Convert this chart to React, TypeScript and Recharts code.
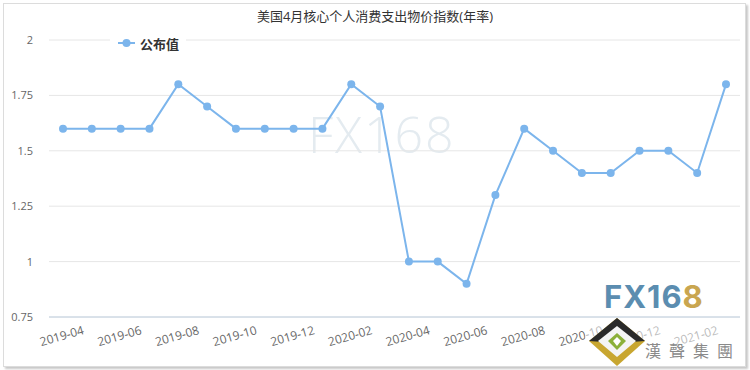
import { LineChart, Line, XAxis, YAxis, CartesianGrid, ReferenceLine } from "recharts"

const months = [
	"2019-04", "2019-05", "2019-06", "2019-07", "2019-08", "2019-09",
	"2019-10", "2019-11", "2019-12", "2020-01", "2020-02", "2020-03",
	"2020-04", "2020-05", "2020-06", "2020-07", "2020-08", "2020-09",
	"2020-10", "2020-11", "2020-12", "2021-01", "2021-02", "2021-03",
]
const published = [
	1.6, 1.6, 1.6, 1.6, 1.8, 1.7, 1.6, 1.6, 1.6, 1.6, 1.8, 1.7,
	1.0, 1.0, 0.9, 1.3, 1.6, 1.5, 1.4, 1.4, 1.5, 1.5, 1.4, 1.8,
]
const yTicks = [0.75, 1, 1.25, 1.5, 1.75, 2]

const data = months.map((m, i) => ({ month: m, value: published[i] }))

const FONT = '"Open Sans", "Noto Sans CJK SC", sans-serif'
const LINE_COLOR = "#7cb5ec"

function MonthTick(props: any) {
	const { x, y, payload } = props
	return (
		<text
			x={x}
			y={y + 15}
			transform={`rotate(-16, ${x}, ${y + 15})`}
			textAnchor="middle"
			fontSize={12}
			fill="#666"
			fontFamily={FONT}
		>
			{payload.value}
		</text>
	)
}

function Logo() {
	return (
		<svg width={750} height={370} style={{ position: "absolute", left: 0, top: 0, pointerEvents: "none" }}>
			<rect x={585} y={318} width={158} height={47} fill="#fff" opacity={0.55} />
			<text x={604} y={308} fontSize={31} fontWeight={700} fill="#5b8db0" fontFamily="Inter, sans-serif" letterSpacing={1}>
				FX16
				<tspan fill="#c9a650">8</tspan>
			</text>
			<polygon points="617,318 645,341 617,366 589,341" fill="#c8a630" />
			<polygon points="617,318 645,341 617,343 589,341" fill="#2a2a2a" />
			<polygon points="617,326 636,341 617,357 598,341" fill="#f4f4f4" />
			<polygon points="617,333 626,341 617,350 608,341" fill="#8bb03a" />
			<polygon points="617,337 621,341 617,346 613,341" fill="#fff" />
			<text x={645} y={357} fontSize={16} fill="#8a8a8a" fontFamily={FONT} letterSpacing={8}>
				漢聲集團
			</text>
		</svg>
	)
}

export default function App() {
	return (
		<div style={{ position: "fixed", left: 0, top: 0, width: 750, height: 370, background: "#fff", fontFamily: FONT }}>
			<div
				style={{
					position: "absolute", left: 3, top: 3, width: 741, height: 362,
					border: "1px solid #dcdcdc", boxShadow: "2px 2px 2px #c8c8c8",
				}}
			/>
			<div style={{ position: "absolute", left: 0, top: 6, width: 750, textAlign: "center", fontSize: 13, color: "#333" }}>
				美国4月核心个人消费支出物价指数(年率)
			</div>
			{/* faint watermark behind the series */}
			<div
				style={{
					position: "absolute", left: 308, top: 100, fontSize: 50, color: "#e4ebf0",
					fontFamily: '"Open Sans", sans-serif', fontWeight: 300, letterSpacing: 2,
				}}
			>
				FX168
			</div>
			<LineChart
				width={750}
				height={370}
				data={data}
				margin={{ top: 40, right: 10, bottom: 13, left: 0 }}
				style={{ position: "absolute", left: 0, top: 0 }}
			>
				<CartesianGrid vertical={false} stroke="#e6e6e6" />
				<XAxis
					dataKey="month"
					interval={1}
					height={40}
					axisLine={false}
					tickLine={false}
					tick={<MonthTick />}
					padding={{ left: 14, right: 14 }}
				/>
				<YAxis
					width={49}
					domain={[0.75, 2]}
					ticks={yTicks}
					axisLine={false}
					tickLine={false}
					tickSize={0}
					tickMargin={16}
					tick={{ fontSize: 11, fill: "#666", fontFamily: FONT }}
				/>
				<ReferenceLine y={0.75} stroke="#c0d0e0" />
				<Line
					type="linear"
					dataKey="value"
					stroke={LINE_COLOR}
					strokeWidth={2}
					dot={{ r: 4, fill: LINE_COLOR, stroke: LINE_COLOR, strokeWidth: 0 }}
					isAnimationActive={false}
				/>
			</LineChart>
			<div
				style={{
					position: "absolute", left: 110, top: 34, height: 18, padding: "0 7px 0 8px",
					background: "#fff", display: "flex", alignItems: "center", fontSize: 13, fontWeight: 700, color: "#333",
				}}
			>
				<svg width={17} height={10} style={{ marginRight: 5 }}>
					<line x1={0} y1={5} x2={17} y2={5} stroke={LINE_COLOR} strokeWidth={2} />
					<circle cx={8.5} cy={5} r={4} fill={LINE_COLOR} />
				</svg>
				公布值
			</div>
			<Logo />
		</div>
	)
}
